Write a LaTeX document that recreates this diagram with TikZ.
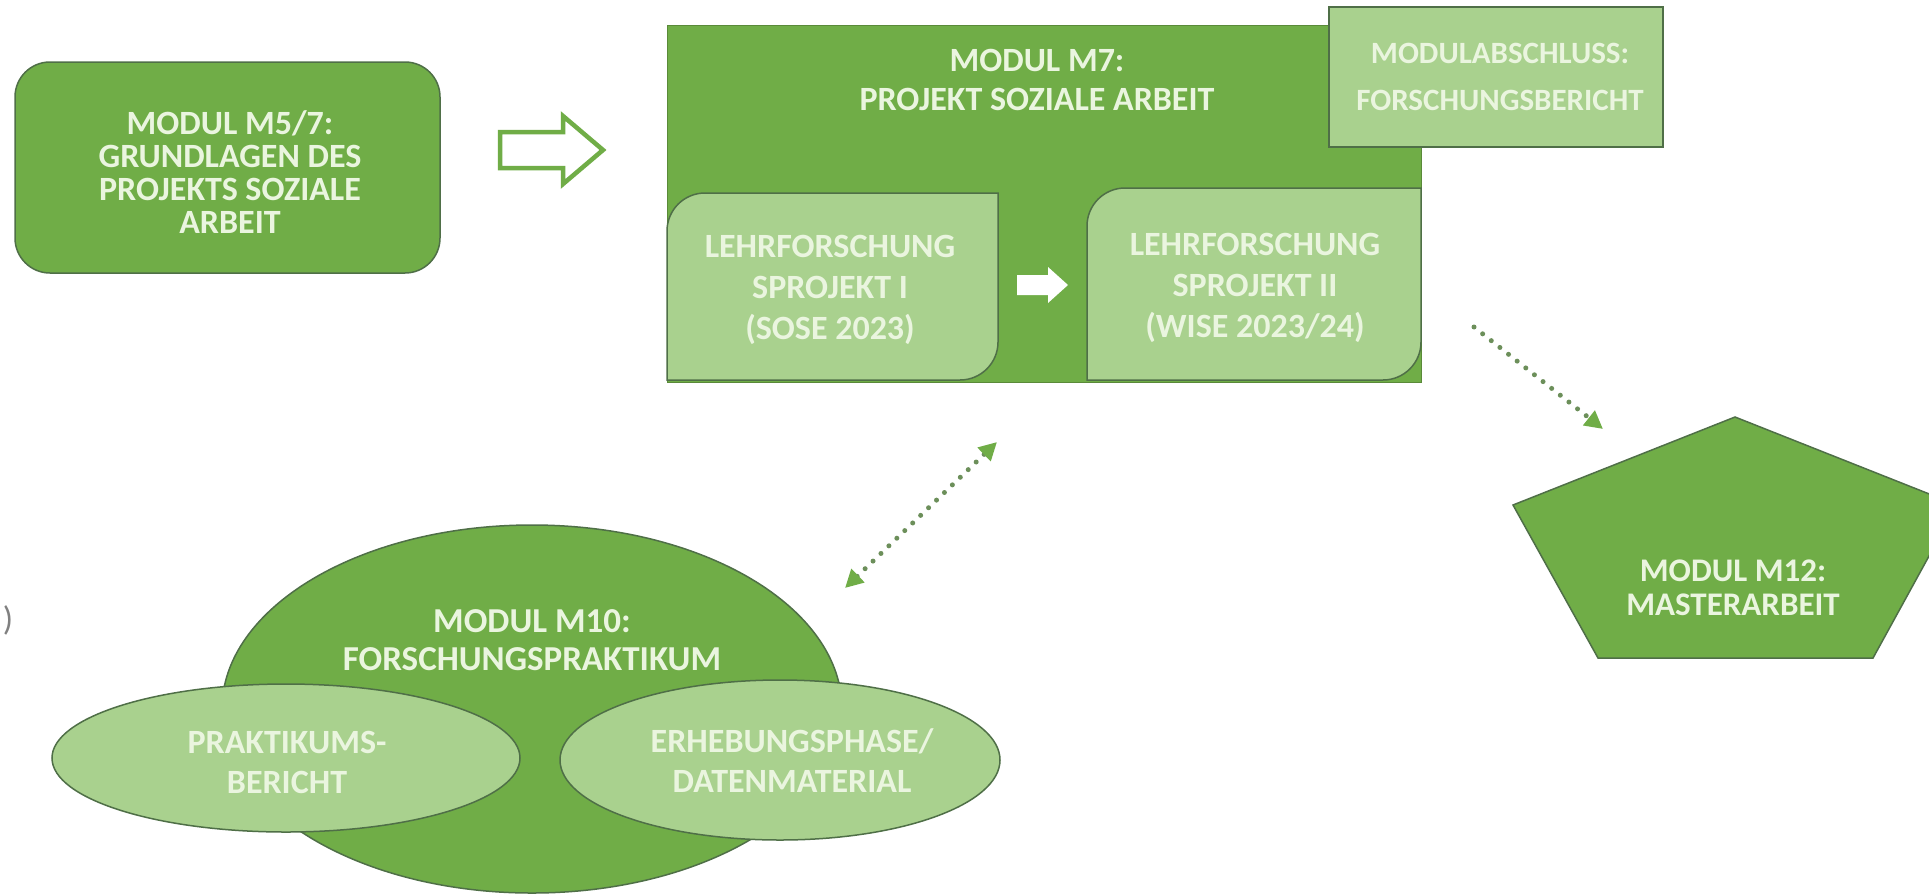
\documentclass[tikz,border=0pt]{standalone}
\usepackage{fontspec}
\setmainfont{Carlito}
\usetikzlibrary{arrows.meta,shapes.geometric}
\definecolor{mgreen}{HTML}{70AD47}
\definecolor{lgreen}{HTML}{A9D18E}
\definecolor{edgec}{HTML}{4F6F47}
\definecolor{txtc}{HTML}{EAF5DF}
\definecolor{dotc}{HTML}{6C8F5A}
\tikzset{
  lbl/.style={text=txtc, align=center, inner sep=0pt},
  fs/.style={font=\bfseries\fontsize{34pt}{#1}\selectfont},
  darkshape/.style={fill=mgreen, draw=edgec, line width=1.5pt},
  lightshape/.style={fill=lgreen, draw=edgec, line width=1.5pt},
  dotarrow/.style={dotc, line width=5pt, line cap=round, dash pattern=on 0pt off 11pt,
    arrows={-Triangle[length=18pt, width=18pt, fill=mgreen, color=mgreen]}},
  dotdouble/.style={dotc, line width=5pt, line cap=round, dash pattern=on 0pt off 11pt,
    arrows={Triangle[length=18pt, width=18pt, fill=mgreen, color=mgreen]-Triangle[length=18pt, width=18pt, fill=mgreen, color=mgreen]}}
}
\begin{document}
\begin{tikzpicture}[x=1pt, y=-1pt]
\useasboundingbox (0,0) rectangle (1929,895);
\clip (0,0) rectangle (1929,895);
\fill[white] (0,0) rectangle (1929,895);

% Modul M5/7
\node[darkshape, rounded corners=35pt, minimum width=425pt, minimum height=211pt, inner sep=0pt] (m57) at (227.5,167.5) {};
\node[lbl, fs=33pt] (m57t) at (230,172) {MODUL M5/7:\\GRUNDLAGEN DES\\PROJEKTS SOZIALE\\ARBEIT};

% hollow block arrow
\draw[mgreen, line width=4.5pt, fill=white, line join=miter]
  (500,132) -- (563,132) -- (563,116) -- (603,150) -- (563,184) -- (563,168) -- (500,168) -- cycle;

% Modul M7
\node[fill=mgreen, draw=mgreen!80!black, line width=1pt, minimum width=754pt, minimum height=357pt, inner sep=0pt] (m7) at (1044,203.5) {};
\node[lbl, fs=39pt] (m7t) at (1037,80) {MODUL M7:\\PROJEKT SOZIALE ARBEIT};

% Lehrforschungsprojekt I
\draw[lightshape] (667,380) -- (667,231) .. controls (667,210) and (684,193) .. (705,193) -- (998,193)
  -- (998,342) .. controls (998,363) and (981,380) .. (960,380) -- cycle;
\node[lbl, fs=41pt] (lf1) at (830,290) {LEHRFORSCHUNG\\SPROJEKT I\\(SOSE 2023)};

% white arrow
\fill[white] (1017,275) -- (1048,275) -- (1048,267) -- (1068,285) -- (1048,303) -- (1048,295) -- (1017,295) -- cycle;

% Lehrforschungsprojekt II
\draw[lightshape] (1087,380) -- (1087,226) .. controls (1087,205) and (1104,188) .. (1125,188) -- (1421,188)
  -- (1421,342) .. controls (1421,363) and (1404,380) .. (1383,380) -- cycle;
\node[lbl, fs=41pt] (lf2) at (1255,288) {LEHRFORSCHUNG\\SPROJEKT II\\(WISE 2023/24)};

% Modulabschluss
\node[lightshape, minimum width=334pt, minimum height=140pt, inner sep=0pt] (mab) at (1496,77) {};
\node[lbl, font=\bfseries\fontsize{31pt}{47pt}\selectfont] (mabt) at (1500,77) {MODULABSCHLUSS:\\FORSCHUNGSBERICHT};

% Modul M12 pentagon
\draw[darkshape] (1735,417) -- (1957,505) -- (1873,658) -- (1598,658) -- (1513,505) -- cycle;
\node[lbl, font=\bfseries\fontsize{33pt}{34pt}\selectfont] (m12) at (1733,588) {MODUL M12:\\MASTERARBEIT};
\coordinate (m12top) at (1603,429);
\coordinate (lf2out) at (1474,327);

% Modul M10
\node[darkshape, ellipse, minimum width=620pt, minimum height=368pt, inner sep=0pt] (m10) at (532,709) {};
\node[lbl, font=\bfseries\fontsize{35pt}{38pt}\selectfont] (m10t) at (532,640) {MODUL M10:\\FORSCHUNGSPRAKTIKUM};
\node[lightshape, ellipse, minimum width=468pt, minimum height=148pt, inner sep=0pt] (prak) at (286,758) {};
\node[lbl, fs=40pt] (prakt) at (287,762) {PRAKTIKUMS-\\BERICHT};
\node[lightshape, ellipse, minimum width=440pt, minimum height=160pt, inner sep=0pt] (erh) at (780,760) {};
\node[lbl, fs=40pt] (erht) at (792,761) {ERHEBUNGSPHASE/\\DATENMATERIAL};

\coordinate (m7low) at (997,442);
\coordinate (m10up) at (845,588);

% dotted connectors
\draw[dotarrow] (lf2out) -- (m12top);
\draw[dotdouble] (m10up) -- (m7low);

% cut-off glyph at left edge
\node[text=gray, font=\fontsize{34pt}{34pt}\selectfont, inner sep=0pt] (edgeglyph) at (8,620) {)};
\end{tikzpicture}
\end{document}
